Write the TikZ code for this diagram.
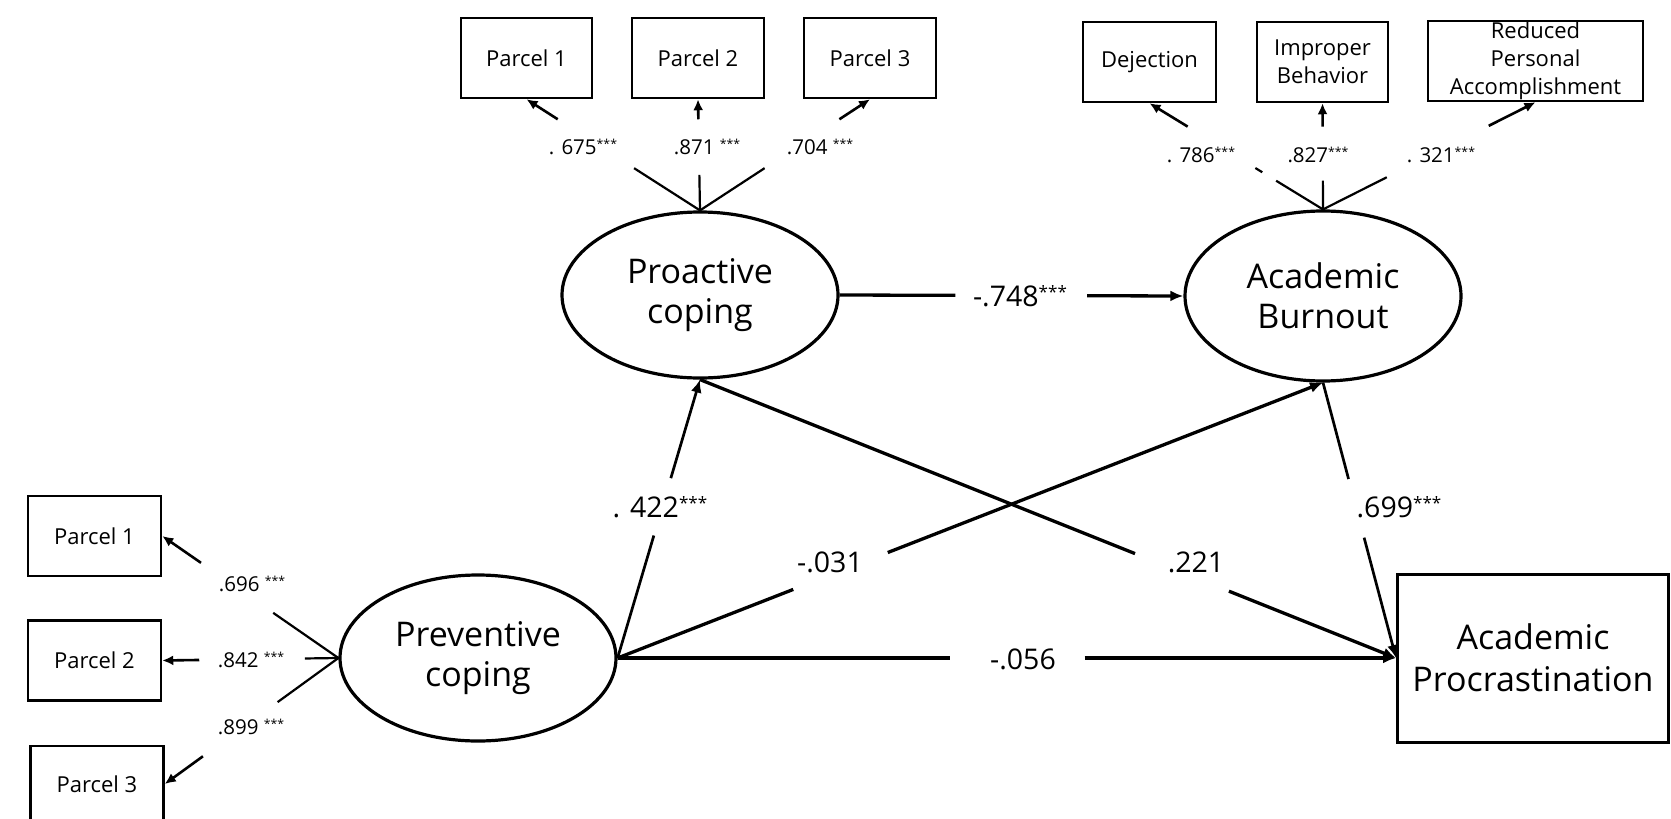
\documentclass[tikz,border=0pt]{standalone}
\usepackage{fontspec}
\setmainfont{Open Sans}
\usetikzlibrary{calc,arrows.meta,shapes.geometric}
\newcommand\stars{\raisebox{.3em}{\scalebox{.6}{***}}}
\begin{document}
\begin{tikzpicture}[x=1pt,y=-1pt,
  box/.style={draw,line width=2.5pt,minimum width=#1,minimum height=80pt,inner sep=0pt,align=center,font=\fontsize{22}{28}\selectfont},
  latent/.style={draw,ellipse,line width=3.2pt,minimum width=276pt,minimum height=166pt,inner sep=0pt,align=center,font=\fontsize{34}{40}\selectfont},
  ind/.style={line width=2.2pt},
  indarr/.style={line width=2.6pt,-{Latex[length=11pt,width=10pt]}},
  structline/.style={line width=3.3pt},
  structarr/.style={line width=3.3pt,-{Latex[length=13pt,width=11pt]}},
  lbl/.style={font=\fontsize{20.5}{24}\selectfont,inner sep=0pt},
  coef/.style={font=\fontsize{28.5}{32}\selectfont,inner sep=0pt},
]
\useasboundingbox (0,0) rectangle (1671,819);

% indicator boxes
\node[box=131pt] (tp1) at (526.5,58) {Parcel 1};
\node[box=132pt] (tp2) at (698,58) {Parcel 2};
\node[box=132pt] (tp3) at (870,58) {Parcel 3};
\node[box=133pt] (dej) at (1149.5,62) {Dejection};
\node[box=131pt] (imp) at (1322.5,62) {Improper\\Behavior};
\node[box=215pt] (rpa) at (1535.5,61) {Reduced\\Personal\\Accomplishment};
\node[box=133pt] (lp1) at (94.5,536) {Parcel 1};
\node[box=133pt] (lp2) at (94.5,660.5) {Parcel 2};
\node[box=133pt,minimum height=76pt] (lp3) at (97,784) {Parcel 3};

% latent variables
\node[latent] (PC) at (700,295) {Proactive\\coping};
\node[latent,minimum height=170pt] (AB) at (1323,296) {Academic\\Burnout};
\node[latent] (PV) at (478,658) {Preventive\\coping};
\node[draw,line width=3pt,minimum width=271pt,minimum height=168pt,inner sep=0pt,align=center,font=\fontsize{34}{42}\selectfont] (AP) at (1533,658) {Academic\\Procrastination};

% proactive coping indicators
\draw[ind] (PC.north) -- ($(PC.north)!.38!(tp1.south)$);
\draw[indarr] ($(PC.north)!.82!(tp1.south)$) -- (tp1.south);
\draw[ind] (PC.north) -- ($(PC.north)!.32!(tp2.south)$);
\draw[indarr] ($(PC.north)!.82!(tp2.south)$) -- (tp2.south);
\draw[ind] (PC.north) -- ($(PC.north)!.38!(tp3.south)$);
\draw[indarr] ($(PC.north)!.82!(tp3.south)$) -- (tp3.south);
\node[lbl] (l675) at (583,147) {. 675\stars};
\node[lbl] (l871) at (707,147) {.871 \stars};
\node[lbl] (l704) at (820,147) {.704 \stars};

% burnout indicators
\draw[ind] (AB.north) -- ($(AB.north)!.27!(dej.south)$);
\draw[ind] ($(AB.north)!.35!(dej.south)$) -- ($(AB.north)!.39!(dej.south)$);
\draw[indarr] ($(AB.north)!.78!(dej.south)$) -- (dej.south);
\draw[ind] (AB.north) -- ($(AB.north)!.27!(imp.south)$);
\draw[indarr] ($(AB.north)!.78!(imp.south)$) -- (imp.south);
\draw[ind] (AB.north) -- ($(AB.north)!.30!(rpa.south)$);
\draw[indarr] ($(AB.north)!.78!(rpa.south)$) -- (rpa.south);
\node[lbl] (l786) at (1201,155) {. 786\stars};
\node[lbl] (l827) at (1318,155) {.827\stars};
\node[lbl] (l321) at (1441,155) {. 321\stars};

% preventive coping indicators
\draw[ind] (PV.west) -- ($(PV.west)!.37!(lp1.east)$);
\draw[indarr] ($(PV.west)!.78!(lp1.east)$) -- (lp1.east);
\draw[ind] (PV.west) -- ($(PV.west)!.19!(lp2.east)$);
\draw[indarr] ($(PV.west)!.79!(lp2.east)$) -- (lp2.east);
\draw[ind] (PV.west) -- ($(PV.west)!.35!(lp3.east)$);
\draw[indarr] ($(PV.west)!.78!(lp3.east)$) -- (lp3.east);
\node[lbl] (l696) at (252,584) {.696 \stars};
\node[lbl] (l842) at (251,660) {.842 \stars};
\node[lbl] (l899) at (251,727) {.899 \stars};

% structural paths
\draw[structline,line width=2.7pt] (PV.east) -- ($(PV.east)!.44!(PC.south)$);
\draw[structarr,line width=2.7pt] ($(PV.east)!.646!(PC.south)$) -- (PC.south);
\node[coef] (c422) at (660,507) {. 422\stars};

\draw[structline] (PC.east) -- ($(PC.east)!.337!(AB.west)$);
\draw[structarr] ($(PC.east)!.72!(AB.west)$) -- (AB.west);
\node[coef] (c748) at (1020,296) {-.748\stars};

\draw[structline] (PV.east) -- ($(PV.east)!.249!(AB.south)$);
\draw[structarr] ($(PV.east)!.383!(AB.south)$) -- (AB.south);
\node[coef] (c031) at (830,562) {-.031};

\draw[structline] (PC.south) -- ($(PC.south)!.625!(AP.west)$);
\draw[structarr] ($(PC.south)!.76!(AP.west)$) -- (AP.west);
\node[coef] (c221) at (1196,562) {.221};

\draw[structline,line width=2.7pt] (AB.south) -- ($(AB.south)!.35!(AP.west)$);
\draw[structarr,line width=2.7pt] ($(AB.south)!.563!(AP.west)$) -- (AP.west);
\node[coef] (c699) at (1399,507) {.699\stars};

\draw[structline] (PV.east) -- ($(PV.east)!.427!(AP.west)$);
\draw[structarr] ($(PV.east)!.6!(AP.west)$) -- (AP.west);
\node[coef] (c056) at (1023,659) {-.056};
\end{tikzpicture}
\end{document}
